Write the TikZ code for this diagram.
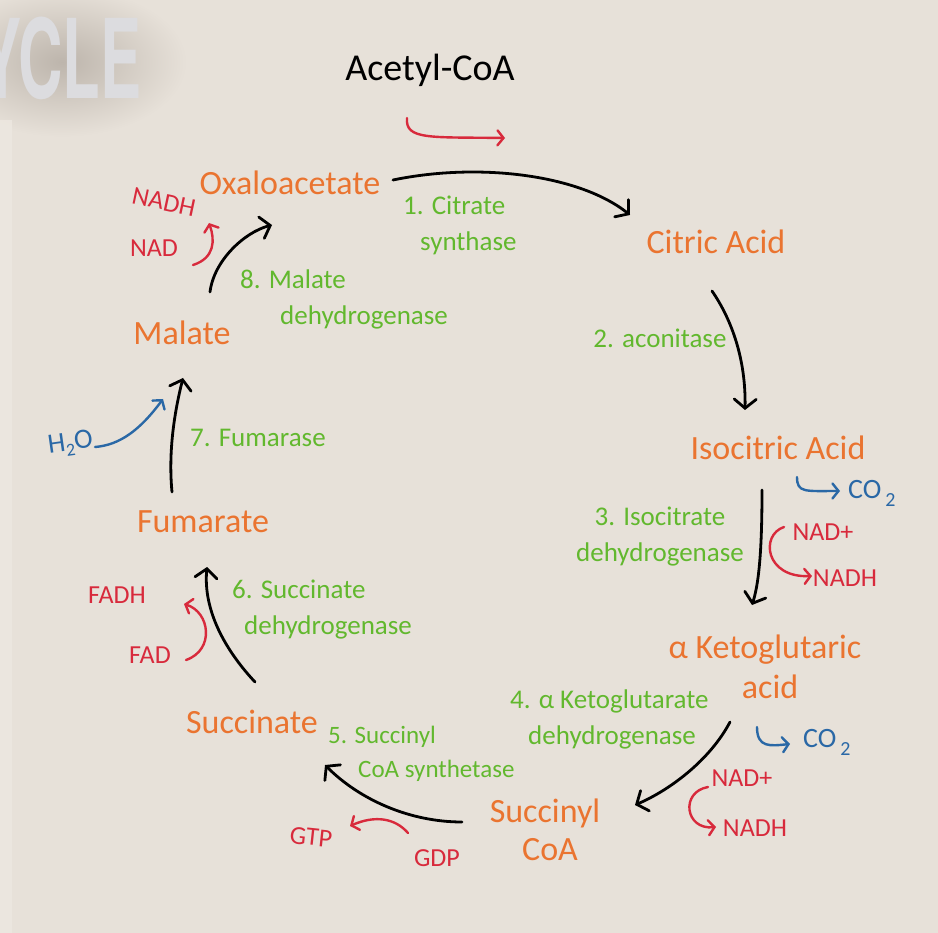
\documentclass[tikz,border=0pt]{standalone}
\usepackage{fontspec}
\usepackage{graphicx}
\setmainfont{Carlito}
\newfontfamily\titlefont{TeX Gyre Heros}
\usetikzlibrary{arrows.meta}
\definecolor{bg}{HTML}{E7E1D9}
\definecolor{bgedge}{HTML}{EDE8E1}
\definecolor{shd}{HTML}{BDB5AC}
\definecolor{kor}{HTML}{EA7430}
\definecolor{kgr}{HTML}{62B82E}
\definecolor{kred}{HTML}{D82A3C}
\definecolor{kblu}{HTML}{2A68A6}
\definecolor{ttl}{HTML}{DCDCDF}
\begin{document}
\begin{tikzpicture}[x=1pt,y=-1pt,
  mol/.style={text=kor,font=\fontsize{34}{38}\selectfont,inner sep=0pt,align=center},
  enz/.style={text=kgr,font=\fontsize{27}{36}\selectfont,inner sep=0pt,align=left},
  cof/.style={text=kred,font=\fontsize{26}{28}\selectfont,inner sep=0pt},
  gas/.style={text=kblu,font=\fontsize{28}{30}\selectfont,inner sep=0pt},
  flow/.style={draw=black,line width=2.8pt,line cap=round,
    -{Straight Barb[length=9pt,width=22pt,line cap=round]}},
  side/.style={line width=2.4pt,line cap=round,
    -{Straight Barb[length=6pt,width=15pt,line cap=round]}}]
% background
\path[fill=bg] (0,0) rectangle (938,933);
\useasboundingbox (0,0) rectangle (938,933);
\begin{scope}
\clip (0,0) rectangle (938,933);
\shade[inner color=shd,outer color=bg] (62,62) ellipse [x radius=125,y radius=75];
\path[fill=bgedge,opacity=0.8] (0,120) rectangle (12,933);
\node[anchor=base west,inner sep=0pt,text=ttl,
  font=\titlefont\bfseries\fontsize{110}{110}\selectfont]
  (title) at (-20,99) {\scalebox{0.56}[1]{YCLE}};
\end{scope}

% molecules
\node[text=black,font=\fontsize{38}{40}\selectfont,inner sep=0pt] (acetyl) at (430,70) {Acetyl-CoA};
\node[mol] (oxa) at (290,183) {Oxaloacetate};
\node[mol] (cit) at (716,242) {Citric Acid};
\node[mol] (iso) at (778,448) {Isocitric Acid};
\node[mol,align=center,font=\fontsize{34}{40}\selectfont] (akg) at (765,667) {α Ketoglutaric\\\hspace*{10pt}acid};
\node[mol,align=center,font=\fontsize{34}{38}\selectfont] (scoa) at (545,830) {Succinyl\\\hspace*{10pt}CoA};
\node[mol] (succ) at (252,722) {Succinate};
\node[mol] (fum) at (203,522) {Fumarate};
\node[mol] (mal) at (182,333) {Malate};

% enzymes
\node[enz,anchor=north west] (e1) at (403,196) {1. Citrate\\\hspace*{17pt}synthase};
\node[enz] (e2) at (660,338) {2. aconitase};
\node[enz,align=center] (e3) at (660,537) {3. Isocitrate\\dehydrogenase};
\node[enz,anchor=north west] (e4) at (510,690) {4. α Ketoglutarate\\\hspace*{18pt}dehydrogenase};
\node[enz,anchor=north west,font=\fontsize{25}{34}\selectfont] (e5) at (328,726) {5. Succinyl\\\hspace*{30pt}CoA synthetase};
\node[enz,anchor=north west] (e6) at (232,580) {6. Succinate\\\hspace*{12pt}dehydrogenase};
\node[enz,anchor=west] (e7) at (190,438) {7. Fumarase};
\node[enz,anchor=north west] (e8) at (240,270) {8. Malate\\\hspace*{40pt}dehydrogenase};

% cofactors
\node[cof,rotate=-12] (nadh8) at (164,202) {NADH};
\node[cof] (nad8) at (154,248) {NAD};
\node[cof] (fadh) at (117,595) {FADH};
\node[cof] (fad) at (150,655) {FAD};
\node[cof] (nadp3) at (823,532) {NAD+};
\node[cof] (nadh3) at (845,578) {NADH};
\node[cof] (nadp4) at (742,778) {NAD+};
\node[cof] (nadh4) at (755,828) {NADH};
\node[cof] (gdp) at (437,858) {GDP};
\node[cof,rotate=-6] (gtp) at (311,837) {GTP};
\node[gas,anchor=west] (co3) at (848,493) {CO\raisebox{-8pt}{\hspace{4pt}\fontsize{20}{20}\selectfont 2}};
\node[gas,anchor=west] (co4) at (803,742) {CO\raisebox{-8pt}{\hspace{4pt}\fontsize{20}{20}\selectfont 2}};
\node[gas,anchor=west,rotate=8] (h2o) at (48,447) {H\raisebox{-5pt}{\fontsize{18}{18}\selectfont 2}O};

% coordinates for the hand-drawn connectors
\coordinate (a0s) at (407,118); \coordinate (a0e) at (505,138);
\coordinate (a1s) at (393,180); \coordinate (a1e) at (630,215);
\coordinate (a2s) at (712,291); \coordinate (a2e) at (745,410);
\coordinate (a3s) at (762,490); \coordinate (a3e) at (752,605);
\coordinate (a4s) at (730,722); \coordinate (a4e) at (635,805);
\coordinate (a5s) at (462,822); \coordinate (a5e) at (325,765);
\coordinate (a6s) at (255,682); \coordinate (a6e) at (207,567);
\coordinate (a7s) at (172,492); \coordinate (a7e) at (183,378);
\coordinate (a8s) at (210,292); \coordinate (a8e) at (272,225);
% side reaction ends
\coordinate (c3s) at (797,477); \coordinate (c3e) at (840,491);
\coordinate (n3s) at (784,527); \coordinate (n3e) at (812,576);
\coordinate (c4s) at (757,727); \coordinate (c4e) at (790,744);
\coordinate (n4s) at (708,787); \coordinate (n4e) at (716,827);
\coordinate (gs) at (408,833);  \coordinate (ge) at (350,826);
\coordinate (fs) at (186,660);  \coordinate (fe) at (184,604);
\coordinate (ms) at (193,265);  \coordinate (me) at (209,223);
\coordinate (hs) at (95,447);   \coordinate (he) at (163,399);

% acetyl-CoA entry
\draw[side,kred] (a0s) .. controls (405,140) and (430,137) .. (a0e);
% main cycle
\draw[flow] (a1s) .. controls (480,162) and (580,175) .. (a1e);
\draw[flow] (a2s) .. controls (732,320) and (746,360) .. (a2e);
\draw[flow] (a3s) .. controls (762,540) and (760,580) .. (a3e);
\draw[flow] (a4s) .. controls (710,760) and (670,790) .. (a4e);
\draw[flow] (a5s) .. controls (410,822) and (360,800) .. (a5e);
\draw[flow] (a6s) .. controls (225,650) and (203,610) .. (a6e);
\draw[flow] (a7s) .. controls (168,450) and (175,410) .. (a7e);
\draw[flow] (a8s) .. controls (214,260) and (245,232) .. (a8e);

% side reactions
\draw[side,kblu] (c3s) .. controls (797,493) and (805,491) .. (c3e);
\draw[side,kred] (n3s) .. controls (760,535) and (765,578) .. (n3e);
\draw[side,kblu] (c4s) .. controls (757,748) and (770,746) .. (c4e);
\draw[side,kred] (n4s) .. controls (680,792) and (685,830) .. (n4e);
\draw[side,kred] (gs) .. controls (395,818) and (375,815) .. (ge);
\draw[side,kred] (fs) .. controls (215,650) and (210,612) .. (fe);
\draw[side,kred] (ms) .. controls (215,258) and (215,240) .. (me);
\draw[side,kblu] (hs) .. controls (120,445) and (140,430) .. (he);
\end{tikzpicture}
\end{document}
